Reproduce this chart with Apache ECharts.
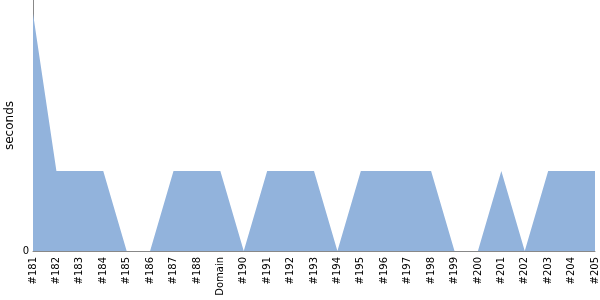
<!DOCTYPE html>
<html><head><meta charset="utf-8">
<script src="https://cdn.jsdelivr.net/npm/echarts@6/dist/echarts.min.js"></script>
<style>html,body{margin:0;padding:0;background:#fff}#c{width:600px;height:300px}</style>
</head><body><div id="c"></div>
<script>
const categories = ['#181','#182','#183','#184','#185','#186','#187','#188','Domain','#190','#191','#192','#193','#194','#195','#196','#197','#198','#199','#200','#201','#202','#203','#204','#205'];
const seconds = [2.97,1,1,1,0,0,1,1,1,0,1,1,1,0,1,1,1,1,0,0,1,0,1,1,1];
const yTicks = [0];
const chart = echarts.init(document.getElementById('c'));
chart.setOption({
  animation: false,
  grid: {left: 33, right: 5, top: 0, bottom: 49, outerBoundsMode: 'none', containLabel: false},
  xAxis: {
    type: 'category', data: categories, boundaryGap: false,
    axisLine: {lineStyle: {color: '#888'}},
    axisTick: {show: false},
    axisLabel: {rotate: 90, color: '#000', fontSize: 10, fontFamily: 'DejaVu Sans', interval: 0, margin: 6}
  },
  yAxis: {
    type: 'value', min: 0, max: 3.14, interval: 10,
    name: 'seconds', nameLocation: 'middle', nameGap: 17, nameRotate: 90, nameMoveOverlap: false,
    nameTextStyle: {color: '#000', fontSize: 12, fontFamily: 'DejaVu Sans'},
    axisLine: {show: true, lineStyle: {color: '#888'}},
    axisTick: {show: false},
    splitLine: {show: false},
    axisLabel: {color: '#000', fontSize: 10, fontFamily: 'DejaVu Sans', showMaxLabel: false, margin: 4,
      formatter: v => yTicks.includes(v) ? String(v) : ''}
  },
  series: [{
    type: 'line', data: seconds, symbol: 'none',
    lineStyle: {width: 0, color: '#92b3dc'},
    areaStyle: {color: '#92b3dc', opacity: 1}
  }]
});
</script></body></html>
